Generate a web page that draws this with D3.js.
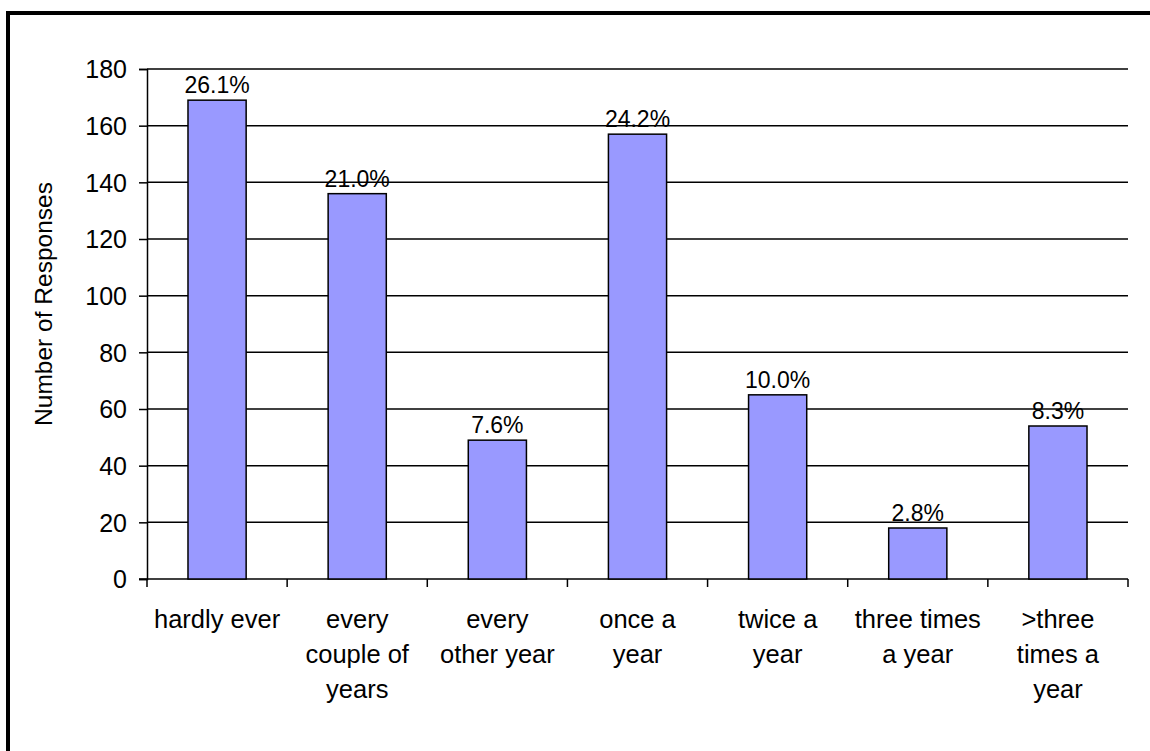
<!DOCTYPE html>
<html>
<head>
<meta charset="utf-8">
<script src="https://cdn.jsdelivr.net/npm/d3@7"></script>
<style>
  body { margin: 0; background: #fff; }
  text { font-family: Arial, "Liberation Sans", sans-serif; fill: #000; }
</style>
</head>
<body>
<div id="chart-container"></div>
<script>
// Data
const categories = ["hardly ever", "every\ncouple of\nyears", "every\nother year", "once a\nyear", "twice a\nyear", "three times\na year", ">three\ntimes a\nyear"];
const responses = [169, 136, 49, 157, 65, 18, 54];
const percentLabels = ["26.1%", "21.0%", "7.6%", "24.2%", "10.0%", "2.8%", "8.3%"];
const yTicks = [0, 20, 40, 60, 80, 100, 120, 140, 160, 180];

const width = 1150, height = 751;
const margin = {top: 69, right: 22, bottom: 172, left: 147};

const svg = d3.select("#chart-container").append("svg")
  .attr("width", width).attr("height", height);

// Outer frame (runs off the right and bottom edges)
svg.append("rect")
  .attr("x", 8).attr("y", 13)
  .attr("width", 1200).attr("height", 800)
  .attr("fill", "none").attr("stroke", "#000").attr("stroke-width", 4);

// Scales
const x = d3.scaleBand()
  .domain(d3.range(categories.length))
  .range([margin.left, width - margin.right])
  .padding(0);
const y = d3.scaleLinear()
  .domain([0, 180])
  .range([height - margin.bottom, margin.top]);

const chart = svg.append("g");

// Gridlines
chart.append("g").selectAll("line")
  .data(yTicks.filter(d => d > 0))
  .join("line")
    .attr("x1", margin.left).attr("x2", width - margin.right)
    .attr("y1", d => y(d)).attr("y2", d => y(d))
    .attr("stroke", "#000").attr("stroke-width", 1.5);

// Y axis
const yAxis = chart.append("g")
  .attr("transform", `translate(${margin.left},0)`)
  .call(d3.axisLeft(y).tickValues(yTicks).tickSize(8).tickPadding(12));
yAxis.select(".domain").attr("stroke-width", 1.5);
yAxis.selectAll(".tick line").attr("stroke-width", 1.5);
yAxis.selectAll("text").style("font-size", "25px").attr("dy", "0.35em");

// X axis
const xAxis = chart.append("g")
  .attr("transform", `translate(0,${y(0)})`);
xAxis.append("line")
  .attr("x1", margin.left - 8).attr("x2", width - margin.right)
  .attr("stroke", "#000").attr("stroke-width", 1.5);
xAxis.selectAll(".xtick")
  .data(d3.range(categories.length + 1))
  .join("line")
    .attr("x1", i => i < categories.length ? x(i) : x(i - 1) + x.bandwidth())
    .attr("x2", i => i < categories.length ? x(i) : x(i - 1) + x.bandwidth())
    .attr("y1", 0).attr("y2", 8)
    .attr("stroke", "#000").attr("stroke-width", 1.5);

// Category labels
xAxis.selectAll(".cat")
  .data(categories)
  .join("text")
    .attr("text-anchor", "middle")
    .style("font-size", "25.5px")
    .attr("transform", (d, i) => `translate(${x(i) + x.bandwidth() / 2},49)`)
    .selectAll("tspan")
    .data(d => d.split("\n"))
    .join("tspan")
      .attr("x", 0)
      .attr("y", (d, j) => j * 35)
      .text(d => d);

// Bars
const barW = x.bandwidth() * 0.415;
chart.append("g").selectAll("rect")
  .data(responses)
  .join("rect")
    .attr("x", (d, i) => x(i) + (x.bandwidth() - barW) / 2)
    .attr("y", d => y(d))
    .attr("width", barW)
    .attr("height", d => y(0) - y(d))
    .attr("fill", "#9999FF")
    .attr("stroke", "#000").attr("stroke-width", 1.5);

// Percentage labels
chart.append("g").selectAll("text")
  .data(responses)
  .join("text")
    .attr("x", (d, i) => x(i) + x.bandwidth() / 2)
    .attr("y", d => y(d) - 7)
    .attr("text-anchor", "middle")
    .style("font-size", "23px")
    .text((d, i) => percentLabels[i]);

// Y axis title
svg.append("text")
  .attr("transform", `translate(52,${(y(0) + y(180)) / 2 - 20}) rotate(-90)`)
  .attr("text-anchor", "middle")
  .style("font-size", "24.5px")
  .text("Number of Responses");
</script>
</body>
</html>
